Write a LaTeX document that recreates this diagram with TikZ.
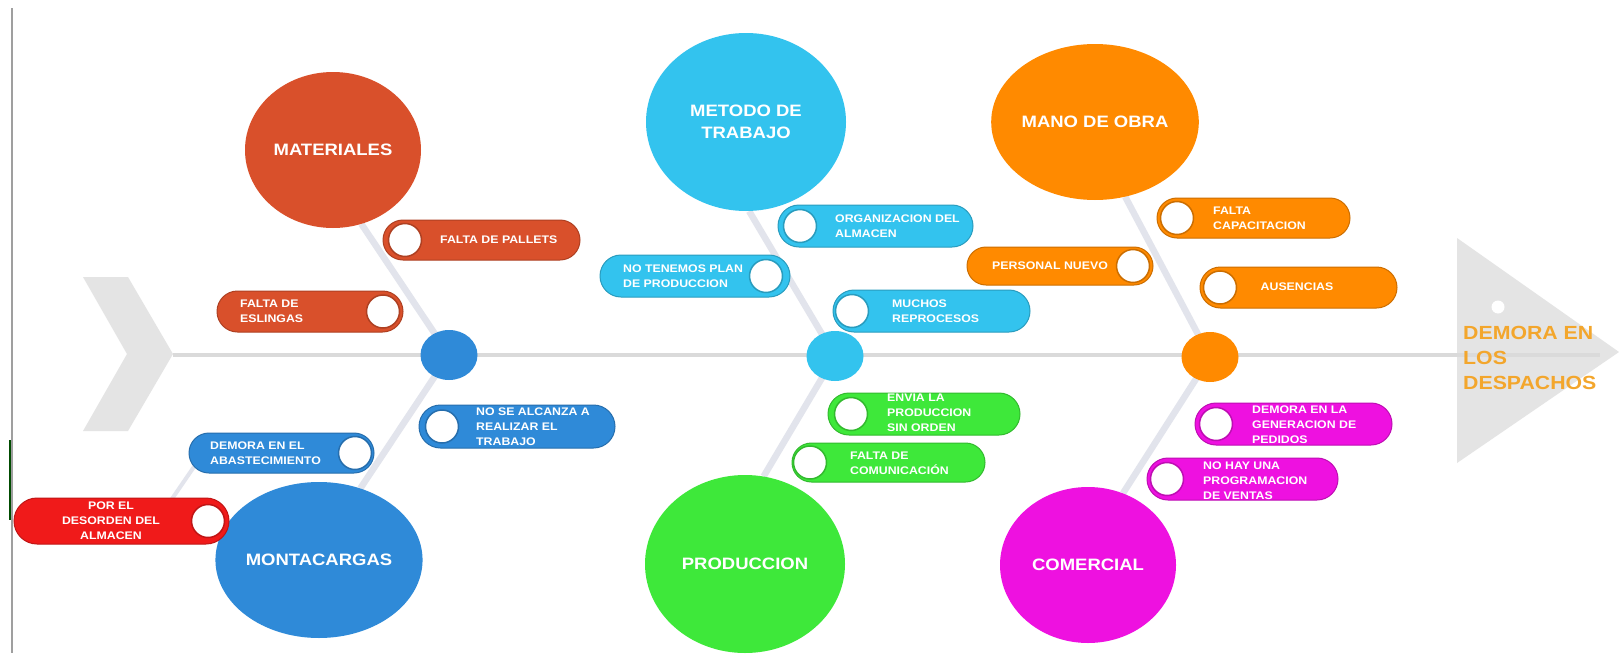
\documentclass[tikz,border=0pt]{standalone}
\usepackage{fontspec}
\setmainfont{Liberation Sans}[FakeStretch=1.12]
\usetikzlibrary{shapes.misc,shapes.geometric,backgrounds}
\definecolor{cmat}{HTML}{D9502B}
\definecolor{cmet}{HTML}{33C3EE}
\definecolor{cman}{HTML}{FF8A00}
\definecolor{cmon}{HTML}{2F8AD8}
\definecolor{cpro}{HTML}{3EE83A}
\definecolor{ccom}{HTML}{EE11E0}
\definecolor{cred}{HTML}{F01A1A}
\definecolor{cgold}{HTML}{F3A62C}
\definecolor{cfish}{HTML}{E4E4E4}
\definecolor{cspine}{HTML}{DADADA}
\definecolor{cbone}{HTML}{E2E4EC}
\tikzset{
 bigc/.style={ellipse, inner sep=0, minimum width=176, minimum height=156, text=white,
   font=\bfseries\fontsize{16.5}{22}\selectfont, align=center},
 bigw/.style={minimum width=200, minimum height=178},
 spinedot/.style={ellipse, inner sep=0, minimum width=57, minimum height=50},
 pillbox/.style={rounded rectangle, inner sep=0, line width=1},
 pillhole/.style={circle, fill=white, minimum size=33, inner sep=0, line width=1.5},
 pilltext/.style={text=white, font=\bfseries\fontsize{11}{15}\selectfont, align=left, inner sep=0},
 bone/.style={draw=cbone, line width=6.5},
}
\newcommand\mkpill[7]{%
 \node[pillbox, fill=#2, draw=#2!80!black, minimum width={#4-#3}, minimum height={#6-#5}] (#1) at ({(#3+#4)/2},{(#5+#6)/2}) {};
 \node[pillhole, draw=#2!80!black] (#1c) at (#7,{(#5+#6)/2}) {};
}
\begin{document}
\begin{tikzpicture}[x=1pt,y=-1pt]
\useasboundingbox (0,0) rectangle (1619,653);
% main circles
\node[bigc, fill=cmat] (mat) at (333,150) {MATERIALES};
\node[bigc, bigw, fill=cmet] (met) at (746,122) {METODO DE\\TRABAJO};
\node[bigc, fill=cman] (man) at (1095,122) {MANO DE OBRA};
\node[bigc, fill=cmon] (mon) at (319,560) {MONTACARGAS};
\node[bigc, bigw, fill=cpro] (pro) at (745,564) {PRODUCCION};
\node[bigc, fill=ccom] (com) at (1088,565) {COMERCIAL};
% spine dots
\node[spinedot, fill=cmon] (d1) at (449,355) {};
\node[spinedot, fill=cmet] (d2) at (835,356) {};
\node[spinedot, fill=cman] (d3) at (1210,357) {};
% pills
\mkpill{p1}{cmat}{383}{580}{220}{260}{405}
\node[pilltext, anchor=west] (p1t) at (440,240) {FALTA DE PALLETS};
\mkpill{p2}{cmat}{217}{403}{291}{332}{383}
\node[pilltext, anchor=west] (p2t) at (240,311.5) {FALTA DE\\ESLINGAS};
\mkpill{p3}{cmon}{419}{615}{405}{448}{442}
\node[pilltext, anchor=west] (p3t) at (476,427) {NO SE ALCANZA A\\REALIZAR EL\\TRABAJO};
\mkpill{p4}{cmon}{189}{374}{433}{473}{355}
\node[pilltext, anchor=west] (p4t) at (210,453) {DEMORA EN EL\\ABASTECIMIENTO};
\mkpill{p5}{cred}{14}{229}{498}{544}{208}
\node[pilltext, align=center] (p5t) at (111,521) {POR EL\\DESORDEN DEL\\ALMACEN};
\mkpill{p6}{cmet}{778}{973}{205}{247}{800}
\node[pilltext, anchor=west] (p6t) at (835,226) {ORGANIZACION DEL\\ALMACEN};
\mkpill{p7}{cmet}{600}{790}{255}{297}{766}
\node[pilltext, anchor=west] (p7t) at (623,276) {NO TENEMOS PLAN\\DE PRODUCCION};
\mkpill{p8}{cmet}{833}{1030}{290}{332}{852}
\node[pilltext, anchor=west] (p8t) at (892,311) {MUCHOS\\REPROCESOS};
\mkpill{p9}{cpro}{828}{1020}{393}{435}{851}
\node[pilltext, anchor=west] (p9t) at (887,413) {ENVIA LA\\PRODUCCION\\SIN ORDEN};
\mkpill{p10}{cpro}{792}{985}{443}{482}{810}
\node[pilltext, anchor=west] (p10t) at (850,463) {FALTA DE\\COMUNICACIÓN};
\mkpill{p11}{cman}{1157}{1350}{198}{238}{1177}
\node[pilltext, anchor=west] (p11t) at (1213,218) {FALTA\\CAPACITACION};
\mkpill{p12}{cman}{967}{1153}{247}{285}{1133}
\node[pilltext, anchor=west] (p12t) at (992,266) {PERSONAL NUEVO};
\mkpill{p13}{cman}{1200}{1397}{267}{308}{1220}
\node[pilltext] (p13t) at (1297,287) {AUSENCIAS};
\mkpill{p14}{ccom}{1195}{1392}{403}{445}{1216}
\node[pilltext, anchor=west] (p14t) at (1252,425) {DEMORA EN LA\\GENERACION DE\\PEDIDOS};
\mkpill{p15}{ccom}{1147}{1338}{458}{500}{1167}
\node[pilltext, anchor=west] (p15t) at (1203,481) {NO HAY UNA\\PROGRAMACION\\DE VENTAS};
% effect
\node[circle, fill=white, minimum size=13, inner sep=0] (wd) at (1498,307) {};
\node[font=\bfseries\fontsize{19}{25}\selectfont, text=cgold, align=left, anchor=west, inner sep=0] (eff) at (1463,358) {DEMORA EN\\LOS\\DESPACHOS};
\coordinate (sb1) at (200,458);
\coordinate (sb2) at (163,512);
\begin{scope}[on background layer]
 \fill[white] (0,0) rectangle (1619,653);
 \draw[color=gray!75, line width=2.5] (12,8) -- (12,653);
 \draw[color=green!30!black, line width=2.5] (10,440) -- (10,520);
 \fill[cfish] (83,277) -- (128,277) -- (173,354) -- (128,431) -- (83,431) -- (127,354) -- cycle;
 \fill[cfish] (1457,238) -- (1619,352) -- (1457,463) -- cycle;
 \draw[cspine, line width=3.5] (173,355) -- (1600,355);
 \draw[bone] (mat.-69) -- (d1.center);
 \draw[bone] (met.-88) -- (d2.center);
 \draw[bone] (man.-68) -- (d3.center);
 \draw[bone] (d1.center) -- (mon.60);
 \draw[bone] (d2.center) -- (pro.78);
 \draw[bone] (d3.center) -- (com.64);
 \draw[bone, line width=4] (sb1) -- (sb2);
\end{scope}
\end{tikzpicture}
\end{document}
